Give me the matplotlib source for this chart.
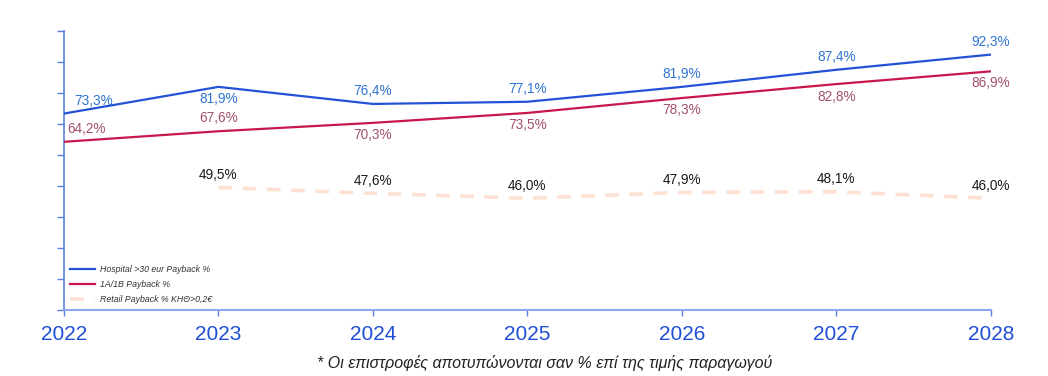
import matplotlib
matplotlib.use('Agg')
import matplotlib.pyplot as plt

years = [2022, 2023, 2024, 2025, 2026, 2027, 2028]
hospital = [73.3, 81.9, 76.4, 77.1, 81.9, 87.4, 92.3]
cat_1a1b = [64.2, 67.6, 70.3, 73.5, 78.3, 82.8, 86.9]
retail_years = [2023, 2024, 2025, 2026, 2027, 2028]
retail = [49.5, 47.6, 46.0, 47.9, 48.1, 46.0]

series_names = ['Hospital >30 eur Payback %', '1A/1B Payback %', 'Retail Payback % ΚΗΘ>0,2€']
footnote = '* Οι επιστροφές αποτυπώνονται σαν % επί της τιμής παραγωγού'

plt.rcParams['font.family'] = ['Liberation Sans', 'DejaVu Sans']

fig = plt.figure(figsize=(10.48, 3.76), dpi=100)
ax = fig.add_axes([64/1048, 1-310/376, (990.7-64)/1048, (310-30.7)/376])

ax.plot(years, hospital, color='#2352d6', lw=1.6, label=series_names[0], zorder=3)
ax.plot(years, cat_1a1b, color='#c8174a', lw=1.6, label=series_names[1], zorder=3)
ax.plot(retail_years, retail, color='#fde1d3', lw=2.6, dashes=(3.8, 2.9), label=series_names[2], zorder=2)

def fmt(v):
    return ('%.1f%%' % v).replace('.', ',')

# label offsets (points)
h_off = [(21, 9.4), (0, -9), (0, 9), (0, 9.3), (0, 9.3), (0, 9.2), (0, 9.4)]
c_off = [(16.5, 9.4), (0, 9.6), (0, -8.7), (0, -8.7), (0, -8.7), (0, -9.1), (0, -8.5)]
for x, v, o in zip(years, hospital, h_off):
    ax.annotate(fmt(v), (x, v), xytext=o, textcoords='offset points', ha='center', va='center',
                fontsize=9.8, color='#2f74d0', annotation_clip=False)
for x, v, o in zip(years, cat_1a1b, c_off):
    ax.annotate(fmt(v), (x, v), xytext=o, textcoords='offset points', ha='center', va='center',
                fontsize=9.8, color='#a2506f', annotation_clip=False)
for x, v in zip(retail_years, retail):
    ax.annotate(fmt(v), (x, v), xytext=(0, 9), textcoords='offset points', ha='center', va='center',
                fontsize=9.8, color='#1a1a1a', annotation_clip=False)

ax.set_xlim(2022, 2028)
ax.set_ylim(10, 100)
ax.set_yticks(range(10, 101, 10))
ax.set_yticklabels([])
ax.set_xticks(years)
ax.set_xticklabels([str(y) for y in years], fontsize=15, color='#1f4fd6')

for s in ['top', 'right']:
    ax.spines[s].set_visible(False)
ax.spines['left'].set_color('#5a7fe2')
ax.spines['bottom'].set_color('#8ea8ee')
ax.spines['left'].set_linewidth(1.2)
ax.spines['bottom'].set_linewidth(1.5)
ax.tick_params(axis='y', length=5, color='#5a7fe2', width=1)
ax.tick_params(axis='x', length=4, color='#5a7fe2', width=1, pad=7)
ax.patch.set_alpha(0)

leg = ax.legend(loc='lower left', bbox_to_anchor=(0.0, 0.0), frameon=False,
                prop={'size': 6.3, 'style': 'italic'}, handlelength=2.8, labelspacing=0.65,
                borderaxespad=0.3, handletextpad=0.6)
for t in leg.get_texts():
    t.set_color('#333333')

fig.text(0.52, 1-363/376, footnote, ha='center', va='center', fontsize=11.5, style='italic', color='#222222')

fig.savefig('out.png', dpi=100)
